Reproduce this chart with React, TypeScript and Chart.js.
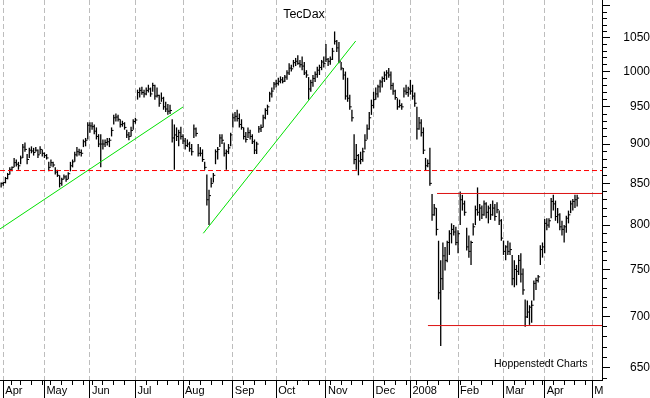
import { useEffect, useRef } from 'react';
import { Chart, registerables } from 'chart.js';

Chart.register(...registerables);

const FONT = '"Liberation Sans", Arial, sans-serif';

const titleText = 'TecDax';
const creditText = 'Hoppenstedt Charts';

// trading-day index of the first bar (Mar 30 2007 = -1, Apr 2 2007 = 0)
const firstDay = -1;

// daily highs
const high = [
  // Mar 30 + Apr 2007
  851, 852, 858, 863, 870, 871, 882, 880, 877, 885, 900, 902, 887, 895, 897, 895, 896, 893, 897, 893,
  // May
  889, 887, 877, 880, 877, 870, 867, 860, 857, 861, 860, 864, 877, 880, 890, 896, 894, 893, 906, 908, 929,
  // Jun
  929, 929, 926, 922, 913, 913, 906, 906, 908, 908, 922, 939, 941, 939, 933, 931, 929, 919, 916, 923, 933,
  // Jul
  935, 974, 977, 978, 974, 977, 981, 977, 984, 981, 977, 967, 970, 964, 957, 954, 953, 933, 926, 922, 919, 923,
  // Aug
  913, 908, 906, 903, 900, 926, 922, 900, 896, 893, 877, 861, 842, 857, 863, 893, 896, 913, 913, 902, 893, 900, 915,
  // Sep
  941, 943, 946, 941, 933, 922, 916, 922, 919, 913, 906, 903, 924, 926, 939, 948, 953, 971, 977, 985,
  // Oct
  988, 991, 993, 992, 995, 1002, 1012, 1010, 1017, 1020, 1024, 1017, 1022, 1014, 1002, 992, 988, 995, 1000, 1007, 1010, 1017, 1022,
  // Nov
  1041, 1020, 1022, 1035, 1060, 1047, 1044, 1014, 1005, 1000, 991, 967, 946, 913, 900, 887, 890, 895, 913, 926, 943, 960,
  // Dec
  971, 977, 981, 988, 993, 1000, 1002, 1005, 1000, 984, 974, 962, 960, 955, 977, 981, 978,
  // Jan 2008
  988, 981, 970, 950, 936, 933, 922, 882, 880, 895, 837, 825, 820, 782, 760, 780, 775, 782, 794, 802, 800, 798,
  // Feb
  794, 840, 836, 829, 797, 788, 782, 802, 823, 845, 825, 823, 829, 827, 823, 825, 829, 825, 827, 817, 807,
  // Mar
  782, 777, 782, 780, 766, 760, 755, 766, 768, 751, 718, 717, 712, 717, 738, 741, 744, 777, 780,
  // Apr
  807, 808, 808, 832, 836, 829, 820, 814, 805, 800, 811, 817, 829, 831, 836, 836,
];

// daily lows
const low = [
  845, 847, 850, 855, 861, 865, 870, 871, 867, 874, 882, 890, 874, 882, 888, 885, 890, 882, 887, 884,
  882, 880, 865, 871, 870, 861, 858, 845, 847, 855, 852, 855, 865, 870, 877, 884, 885, 884, 896, 897, 906,
  915, 919, 913, 906, 896, 870, 893, 896, 898, 896, 910, 926, 930, 930, 922, 923, 919, 908, 905, 910, 919,
  927, 960, 963, 967, 963, 966, 970, 964, 971, 960, 963, 950, 957, 946, 943, 939, 940, 902, 867, 904, 897, 906,
  900, 893, 896, 890, 885, 908, 910, 884, 884, 877, 867, 823, 800, 845, 851, 874, 880, 896, 900, 884, 867, 887, 897,
  922, 930, 930, 922, 919, 906, 902, 908, 906, 900, 887, 887, 915, 916, 922, 933, 939, 957, 963, 974,
  977, 980, 983, 983, 985, 988, 995, 1000, 1006, 1008, 1010, 1006, 1002, 995, 991, 960, 971, 978, 985, 991, 995, 1002, 1006,
  1014, 1008, 1010, 1017, 1040, 1029, 1012, 1002, 988, 960, 957, 946, 930, 874, 867, 860, 874, 877, 893, 906, 919, 939,
  948, 960, 963, 970, 977, 985, 988, 991, 974, 967, 960, 946, 949, 946, 963, 967, 964,
  967, 960, 950, 906, 919, 910, 887, 866, 870, 847, 805, 811, 788, 718, 671, 728, 749, 758, 766, 779, 788, 777,
  768, 800, 817, 811, 771, 763, 755, 788, 800, 811, 805, 807, 811, 808, 802, 806, 811, 805, 814, 800, 782,
  766, 760, 766, 766, 733, 731, 733, 744, 736, 723, 690, 699, 692, 694, 717, 728, 736, 755, 763,
  768, 794, 797, 808, 817, 805, 802, 794, 788, 780, 791, 802, 814, 817, 820, 822,
];

// daily closes
const close = [
  850, 851, 856, 861, 867, 870, 876, 874, 872, 882, 896, 893, 880, 892, 891, 889, 892, 886, 893, 888,
  885, 882, 870, 876, 873, 864, 860, 850, 855, 858, 855, 862, 872, 877, 886, 890, 889, 888, 903, 905, 925,
  924, 923, 917, 910, 900, 900, 900, 902, 903, 905, 918, 935, 936, 933, 926, 927, 922, 912, 910, 918, 930,
  932, 970, 973, 970, 968, 973, 975, 968, 980, 965, 966, 955, 962, 950, 947, 944, 945, 908, 912, 910, 915, 910,
  904, 898, 900, 894, 890, 920, 914, 888, 888, 880, 870, 830, 835, 850, 860, 890, 893, 908, 905, 888, 890, 895, 912,
  935, 937, 934, 926, 922, 910, 906, 915, 910, 903, 892, 900, 920, 922, 935, 945, 950, 968, 972, 982,
  983, 986, 988, 986, 992, 998, 1005, 1004, 1013, 1015, 1012, 1010, 1008, 998, 995, 975, 984, 990, 996, 1002, 1006, 1014, 1012,
  1018, 1015, 1018, 1030, 1045, 1035, 1015, 1005, 995, 965, 962, 950, 935, 880, 885, 878, 880, 890, 905, 920, 935, 952,
  960, 968, 978, 985, 990, 995, 998, 995, 980, 972, 963, 950, 952, 950, 972, 970, 975,
  972, 965, 955, 920, 928, 915, 892, 872, 875, 850, 812, 820, 795, 725, 740, 765, 760, 780, 790, 795, 792, 780,
  790, 830, 825, 815, 775, 770, 780, 798, 818, 815, 820, 812, 825, 815, 820, 812, 820, 810, 818, 805, 785,
  770, 775, 770, 772, 740, 750, 748, 760, 745, 728, 700, 705, 710, 712, 735, 738, 742, 772, 775,
  802, 800, 805, 828, 825, 810, 812, 798, 795, 798, 808, 812, 825, 828, 830, 832,
];

// x axis: trading-day indices of month starts and week starts
const monthStarts = [0, 19, 40, 61, 83, 106, 126, 149, 171, 188, 210, 231, 250, 272];
const monthLabels = ['Apr', 'May', 'Jun', 'Jul', 'Aug', 'Sep', 'Oct', 'Nov', 'Dec', '2008', 'Feb', 'Mar', 'Apr', 'M'];
const weekStarts = [4, 8, 13, 18, 22, 27, 32, 37, 41, 46, 51, 56, 66, 71, 76, 81, 86, 91, 96, 101, 111, 116, 121,
  131, 136, 141, 146, 151, 156, 161, 166, 176, 181, 186, 191, 196, 201, 206, 211, 216, 221, 226, 236, 241, 245,
  249, 254, 259, 264, 269];

const xMin = -1.524;
const xMax = 276.48;
const yMin = 638.7;
const yMax = 1109.6;

// y axis ticks
const yMajorTicks = [650, 700, 750, 800, 850, 900, 950, 1000, 1050, 1100];
const yMinorTicks: number[] = [];
for (let v = 640; v <= 1100; v += 10) yMinorTicks.push(v);

// drawn annotation lines (trading-day index, value)
const resistanceLine = [[xMin, 866], [xMax, 866]];
const rangeTopLine = [[200.3, 837.6], [xMax, 837.6]];
const rangeBottomLine = [[196.1, 691.3], [xMax, 691.3]];
const trendLineA = [[xMin, 795.5], [83.0, 949.8]];
const trendLineB = [[92.36, 790.5], [162.74, 1045.4]];

const toPts = (arr: number[][]) => arr.map(([x, y]) => ({ x, y }));

const textPlugin = {
  id: 'texts',
  afterDraw(chart: any) {
    const { ctx, chartArea } = chart;
    ctx.save();
    ctx.fillStyle = '#000';
    ctx.font = `12.5px ${FONT}`;
    ctx.textAlign = 'center';
    ctx.textBaseline = 'middle';
    ctx.fillText(titleText, (chartArea.left + chartArea.right) / 2 + 3, 15);
    ctx.font = `10.5px ${FONT}`;
    ctx.textAlign = 'left';
    ctx.textBaseline = 'alphabetic';
    ctx.fillText(creditText, chartArea.right - 108, chartArea.bottom - 13);
    ctx.restore();
  },
};

const zeroPad = (s: any) => {
  s.paddingTop = 0;
  s.paddingBottom = 0;
  s.paddingLeft = 0;
  s.paddingRight = 0;
};

const lineSet = (pts: number[][], color: string, dash: number[] = []) => ({
  type: 'line',
  data: toPts(pts),
  borderColor: color,
  borderWidth: 1,
  borderDash: dash,
  pointRadius: 0,
  fill: false,
  order: 1,
  xAxisID: 'x',
  yAxisID: 'y',
});

export default function App() {
  const ref = useRef<HTMLCanvasElement | null>(null);

  useEffect(() => {
    document.body.style.margin = '0';
    Chart.defaults.font.family = FONT;
    const bars = high.map((h, i) => ({ x: i + firstDay, y: [low[i], h] }));
    const closes = close.map((c, i) => ({ x: i + firstDay + 0.45, y: c }));

    const chart = new Chart(ref.current as HTMLCanvasElement, {
      type: 'bar',
      data: {
        datasets: [
          lineSet(resistanceLine, '#ff0000', [5, 3]),
          lineSet(rangeTopLine, '#dd1111'),
          lineSet(rangeBottomLine, '#dd1111'),
          lineSet(trendLineA, '#00e000'),
          lineSet(trendLineB, '#00e000'),
          {
            type: 'scatter',
            data: closes,
            pointStyle: 'line',
            radius: 1,
            borderColor: '#000',
            borderWidth: 1,
            order: 2,
            xAxisID: 'x',
            yAxisID: 'y',
          },
          {
            type: 'bar',
            data: bars as any,
            backgroundColor: '#000',
            borderWidth: 0,
            barThickness: 1.3,
            inflateAmount: 0,
            grouped: false,
            order: 3,
            xAxisID: 'x',
            yAxisID: 'y',
          },
        ] as any,
      },
      options: {
        responsive: false,
        animation: false,
        events: [],
        layout: { padding: 0, autoPadding: false },
        plugins: { legend: { display: false }, tooltip: { enabled: false }, title: { display: false } },
        scales: {
          x: {
            type: 'linear',
            axis: 'x',
            position: 'bottom',
            weight: 0,
            min: xMin,
            max: xMax,
            bounds: 'data',
            offset: false,
            afterBuildTicks: (s: any) => { s.ticks = weekStarts.map((v) => ({ value: v })); },
            afterFit: (s: any) => { s.height = 0; zeroPad(s); },
            ticks: { display: false, autoSkip: false },
            grid: { drawOnChartArea: false, drawTicks: true, tickLength: 5, tickColor: '#000', tickWidth: 1, offset: false },
            border: { display: true, color: '#000', width: 1 },
          },
          xm: {
            type: 'linear',
            axis: 'x',
            position: 'bottom',
            weight: 1,
            min: xMin,
            max: xMax,
            bounds: 'data',
            offset: false,
            afterBuildTicks: (s: any) => { s.ticks = monthStarts.map((v) => ({ value: v })); },
            afterFit: (s: any) => { s.height = 18; zeroPad(s); },
            ticks: {
              autoSkip: false,
              maxRotation: 0,
              minRotation: 0,
              align: 'start',
              labelOffset: 2,
              padding: -14,
              color: '#000',
              font: { family: FONT, size: 11 },
              callback: (_v: any, i: number) => monthLabels[i],
            },
            grid: { drawOnChartArea: true, color: '#bdbdbd', lineWidth: 1, tickLength: 18, tickColor: '#000', tickWidth: 1, offset: false },
            border: { display: false, dash: [5, 3] },
          },
          y: {
            type: 'logarithmic',
            axis: 'y',
            position: 'right',
            weight: 0,
            min: yMin,
            max: yMax,
            bounds: 'data',
            afterBuildTicks: (s: any) => { s.ticks = yMinorTicks.map((v) => ({ value: v })); },
            afterFit: (s: any) => { s.width = 0; zeroPad(s); },
            ticks: { display: false, autoSkip: false },
            grid: { drawOnChartArea: false, tickLength: 5, tickColor: '#000', tickWidth: 1 },
            border: { display: true, color: '#000', width: 1 },
          },
          ym: {
            type: 'logarithmic',
            axis: 'y',
            position: 'right',
            weight: 1,
            min: yMin,
            max: yMax,
            bounds: 'data',
            afterBuildTicks: (s: any) => { s.ticks = yMajorTicks.map((v) => ({ value: v })); },
            afterFit: (s: any) => { s.width = 48; zeroPad(s); },
            ticks: {
              autoSkip: false,
              crossAlign: 'far',
              padding: 10,
              color: '#000',
              font: { family: FONT, size: 12 },
              callback: (v: any) => (Number(v) <= 1050 ? String(v) : ''),
            },
            grid: { drawOnChartArea: false, tickLength: 8, tickColor: '#000', tickWidth: 1 },
            border: { display: false },
          },
        } as any,
      },
      plugins: [textPlugin],
    } as any);

    return () => chart.destroy();
  }, []);

  return (
    <div style={{ width: 650, height: 398, position: 'relative', background: '#fff' }}>
      <canvas ref={ref} width={650} height={398} style={{ display: 'block' }} />
    </div>
  );
}
